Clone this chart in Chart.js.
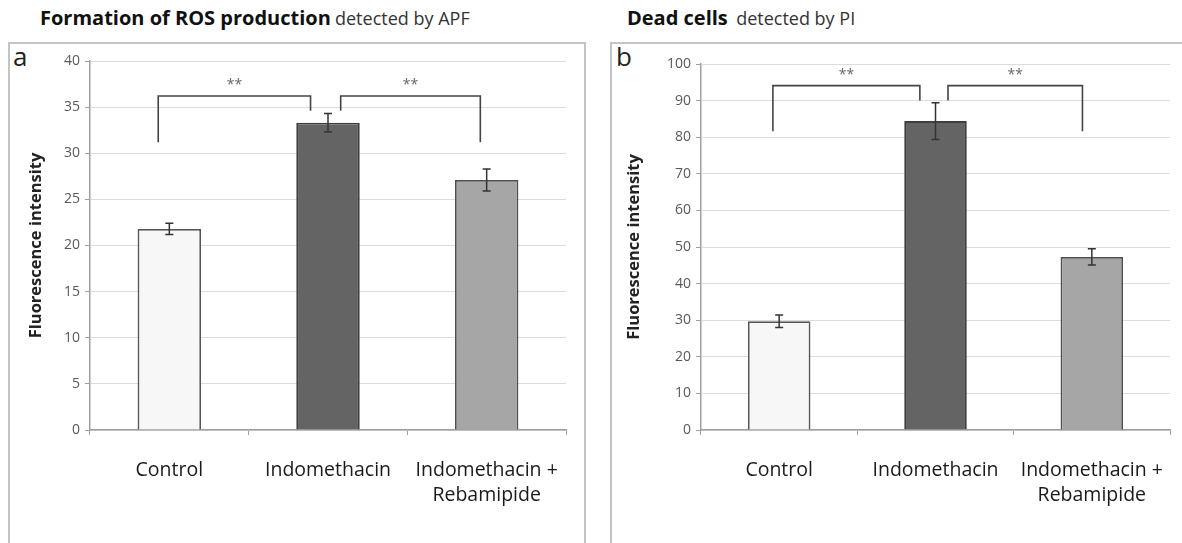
<!DOCTYPE html>
<html>
<head>
<meta charset="utf-8">
<script src="https://cdn.jsdelivr.net/npm/chart.js@4.4.1/dist/chart.umd.min.js"></script>
<style>
  html, body { margin: 0; padding: 0; background: #fff; overflow: hidden; }
  body { width: 1182px; height: 543px; position: relative; font-family: "Open Sans", sans-serif; }
  .frame { position: absolute; top: 42px; height: 560px; border: 2px solid #c4c4c4; box-sizing: border-box; }
  .title { position: absolute; top: 6px; line-height: 24px; color: #111; white-space: nowrap; }
  .title b { font-size: 20px; font-weight: 700; }
  .title span { font-size: 18px; color: #333; }
  .letter { position: absolute; top: 38px; font-size: 26px; color: #222; }
  canvas { position: absolute; }
</style>
</head>
<body>
<div class="title" style="left:40px"><b>Formation of ROS production</b> <span>detected by APF</span></div>
<div class="title" style="left:627px"><b>Dead cells</b>&nbsp; <span>detected by PI</span></div>
<div class="frame" style="left:8px;width:578px"></div>
<div class="frame" style="left:610px;width:600px"></div>
<div class="letter" style="left:13px">a</div>
<div class="letter" style="left:616px">b</div>
<canvas id="chartA" style="left:10px;top:44px" width="574" height="499"></canvas>
<canvas id="chartB" style="left:612px;top:44px" width="570" height="499"></canvas>
<script>
const categories = ['Control', 'Indomethacin', ['Indomethacin +', 'Rebamipide']];

const rosValues = [21.8, 33.3, 27.1];
const rosErrors = [0.6, 1.0, 1.2];
const rosMax = 40, rosStep = 5;
// brackets: from/to in category index units, heights in data units
const rosBrackets = [
  { from: -0.07, to: 0.89, top: 36.2, left: 31.2, right: 34.6, label: '**' },
  { from: 1.08, to: 1.96, top: 36.2, left: 34.6, right: 31.2, label: '**' }
];

const deadValues = [29.7, 84.4, 47.3];
const deadErrors = [1.7, 5.0, 2.2];
const deadMax = 100, deadStep = 10;
const deadBrackets = [
  { from: -0.04, to: 0.90, top: 94.1, left: 81.6, right: 90.0, label: '**' },
  { from: 1.08, to: 1.94, top: 94.1, left: 90.0, right: 81.6, label: '**' }
];

const barFill = ['#f7f7f7', '#646464', '#a6a6a6'];
const barEdge = ['#555555', '#3f3f3f', '#4e4e4e'];

const annotate = {
  id: 'annotate',
  afterDatasetsDraw(chart, args, opts) {
    const ctx = chart.ctx, x = chart.scales.x, y = chart.scales.y;
    const x0 = x.getPixelForValue(0), step = x.getPixelForValue(1) - x0;
    const px = i => x0 + i * step;
    ctx.save();
    ctx.strokeStyle = '#333';
    ctx.lineWidth = 1.5;
    chart.getDatasetMeta(0).data.forEach((bar, i) => {
      const t = y.getPixelForValue(opts.values[i] + opts.errors[i]);
      const b = y.getPixelForValue(opts.values[i] - opts.errors[i]);
      ctx.beginPath();
      ctx.moveTo(bar.x, t); ctx.lineTo(bar.x, b);
      ctx.moveTo(bar.x - 4, t); ctx.lineTo(bar.x + 4, t);
      ctx.moveTo(bar.x - 4, b); ctx.lineTo(bar.x + 4, b);
      ctx.stroke();
    });
    ctx.strokeStyle = '#444';
    ctx.lineWidth = 1.6;
    ctx.fillStyle = '#666';
    ctx.font = '14px "Open Sans"';
    ctx.textAlign = 'center';
    ctx.textBaseline = 'middle';
    opts.brackets.forEach(br => {
      const l = px(br.from), r = px(br.to), top = y.getPixelForValue(br.top);
      ctx.beginPath();
      ctx.moveTo(l, y.getPixelForValue(br.left));
      ctx.lineTo(l, top); ctx.lineTo(r, top);
      ctx.lineTo(r, y.getPixelForValue(br.right));
      ctx.stroke();
      ctx.fillText(br.label, (l + r) / 2, top - 11);
    });
    ctx.restore();
  }
};

function makeChart(id, values, errors, brackets, max, step, box) {
  return new Chart(document.getElementById(id), {
    type: 'bar',
    data: {
      labels: categories,
      datasets: [{
        data: values,
        backgroundColor: barFill,
        borderColor: barEdge,
        borderWidth: 1.8,
        barPercentage: 0.4,
        categoryPercentage: 1
      }]
    },
    plugins: [annotate],
    options: {
      responsive: false,
      animation: false,
      devicePixelRatio: 1,
      layout: { padding: { left: box.left, top: box.top, right: box.right, bottom: 0 } },
      scales: {
        x: {
          grid: { display: true, drawOnChartArea: false, tickLength: 5, color: '#a0a0a0', offset: true },
          border: { color: '#a0a0a0', width: 1.5 },
          ticks: { color: '#1a1a1a', padding: 22, maxRotation: 0, autoSkip: false,
                   font: { family: 'Open Sans', size: 19.5, lineHeight: 1.33 } },
          afterFit: s => { s.height = 113; s.paddingRight = 0; s.paddingLeft = 0; }
        },
        y: {
          min: 0, max: max,
          ticks: { stepSize: step, color: '#595959', padding: 5, font: { family: 'Open Sans', size: 14 } },
          grid: { color: '#dcdcdc', tickLength: 5, tickColor: '#a0a0a0' },
          border: { color: '#a0a0a0', width: 1.5 },
          title: { display: true, text: 'Fluorescence intensity', color: '#222',
                   padding: { top: box.titlePad, bottom: 0 }, font: { family: 'Open Sans', size: 16.5, weight: 'bold' } },
          afterFit: s => { s.width = box.yWidth; }
        }
      },
      plugins: {
        legend: { display: false },
        tooltip: { enabled: false },
        annotate: { values: values, errors: errors, brackets: brackets }
      }
    }
  });
}

makeChart('chartA', rosValues, rosErrors, rosBrackets, rosMax, rosStep, { left: 10, top: 17, right: 18, yWidth: 70, titlePad: 6 });
makeChart('chartB', deadValues, deadErrors, deadBrackets, deadMax, deadStep, { left: 8, top: 20, right: 12, yWidth: 81, titlePad: 4 });
</script>
</body>
</html>
